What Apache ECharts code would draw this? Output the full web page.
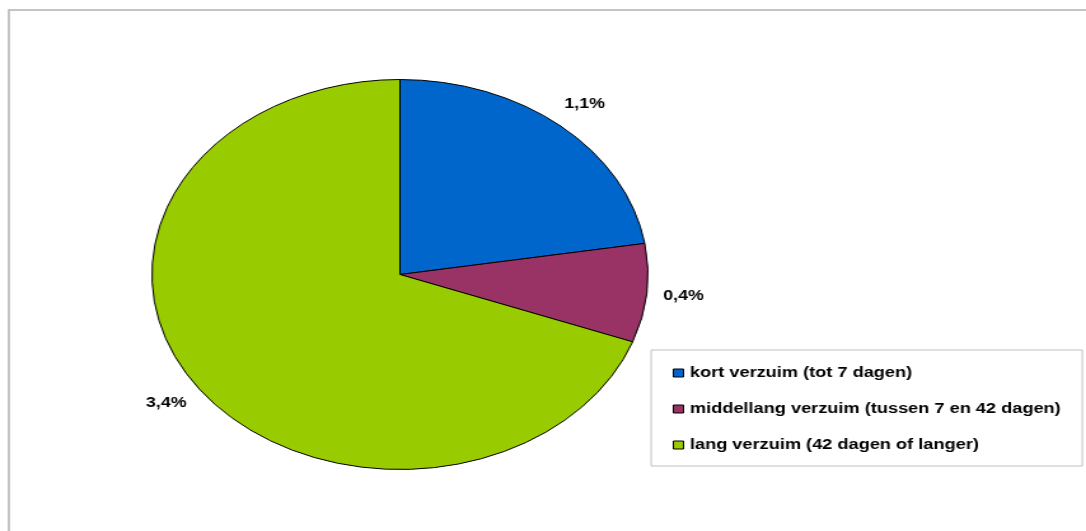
<!DOCTYPE html>
<html>
<head>
<meta charset="utf-8">
<script src="https://cdn.jsdelivr.net/npm/echarts@6/dist/echarts.min.js"></script>
<style>
  html, body { margin: 0; padding: 0; background: #fff; overflow: hidden; }
  /* het origineel is horizontaal uitgerekt: grafiek tekenen en dan in breedte schalen */
  .table1 { width: 854px; height: 531px; transform: scaleX(1.2717); transform-origin: 0 0; }
</style>
</head>
<body>
<div class="table1"></div>
<script>
  // gegevens
  var categories = ['kort verzuim (tot 7 dagen)', 'middellang verzuim (tussen 7 en 42 dagen)', 'lang verzuim (42 dagen of langer)'];
  var values = [1.1, 0.4, 3.4];
  var colors = ['#0066CC', '#993366', '#99CC00'];

  var pieData = categories.map(function (name, i) {
      return { name: name, value: values[i] };
  });

  function pct(v) {
      return v.toFixed(1).replace('.', ',') + '%';
  }

  var table1 = echarts.init(document.querySelector('.table1'));

  var option1 = {
      color: colors,
      animation: false,
      textStyle: { fontFamily: 'Liberation Sans, Arial, sans-serif' },
      graphic: [{
          type: 'rect',
          shape: { x: 7, y: 10, width: 900, height: 600 },
          style: { fill: 'none', stroke: '#c4c4c4', lineWidth: 2 },
          silent: true
      }],
      legend: {
          orient: 'vertical',
          left: 512,
          top: 350,
          padding: [16, 17, 14, 17],
          itemGap: 22,
          itemWidth: 8,
          itemHeight: 8,
          icon: 'rect',
          borderColor: '#c0c0c0',
          borderWidth: 1,
          itemStyle: { borderColor: '#000', borderWidth: 1 },
          textStyle: { color: '#000', fontSize: 14.3, fontWeight: 'bold' },
          data: categories
      },
      series: [{
          name: 'verzuim',
          type: 'pie',
          center: [314.5, 274.5],
          radius: 195,
          startAngle: 90,
          clockwise: true,
          silent: true,
          label: { show: false },
          labelLine: { show: false },
          itemStyle: { borderColor: '#000', borderWidth: 1 },
          emphasis: { scale: false },
          data: pieData
      }, {
          // onzichtbare ring alleen voor de percentages buiten de taart
          name: 'labels',
          type: 'pie',
          center: [314.5, 274.5],
          radius: [206, 236],
          startAngle: 90,
          clockwise: true,
          silent: true,
          itemStyle: { color: 'rgba(0,0,0,0)', borderWidth: 0 },
          label: {
              show: true,
              position: 'inside',
              color: '#000',
              fontSize: 14,
              fontWeight: 'bold',
              formatter: function (p) { return pct(p.value); }
          },
          labelLine: { show: false },
          emphasis: { disabled: true },
          data: pieData
      }]
  };

  table1.setOption(option1);
</script>
</body>
</html>
